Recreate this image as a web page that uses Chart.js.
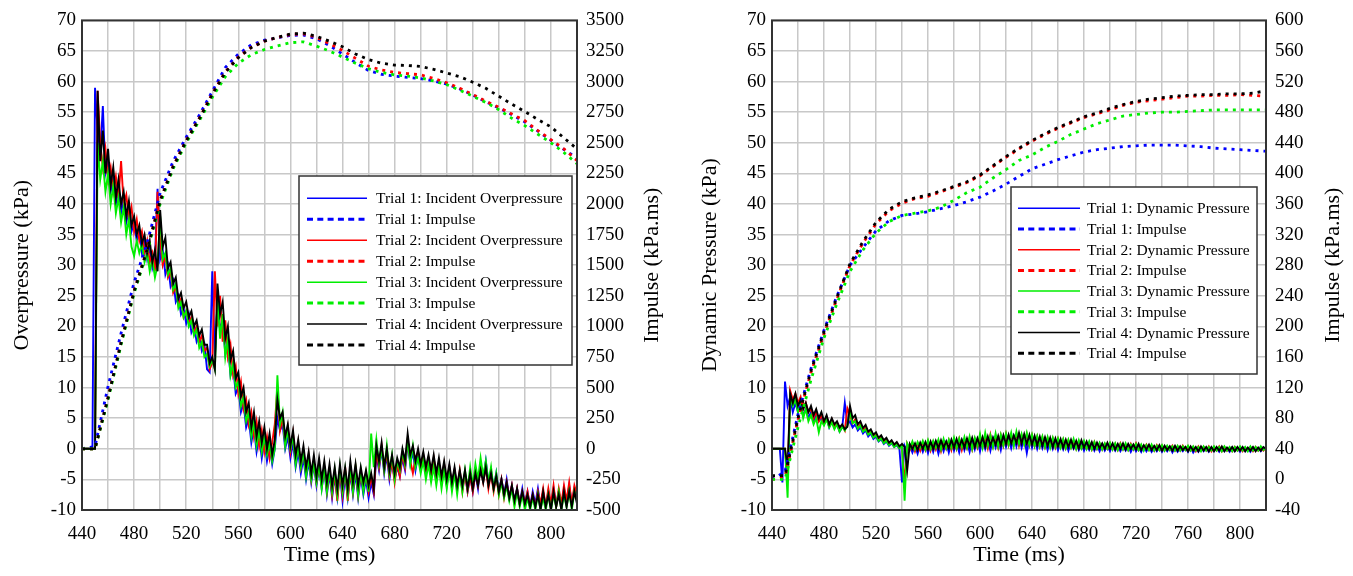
<!DOCTYPE html>
<html>
<head>
<meta charset="utf-8">
<script src="https://cdn.jsdelivr.net/npm/chart.js@4.4.1/dist/chart.umd.min.js"></script>
<style>
  html, body { margin: 0; padding: 0; background: #fff; }
  #wrap { position: relative; width: 1353px; height: 576px; }
  #c1 { position: absolute; left: 0; top: 0; }
  #c2 { position: absolute; left: 680px; top: 0; }
</style>
</head>
<body>
<div id="wrap">
  <canvas id="c1" width="680" height="576"></canvas>
  <canvas id="c2" width="673" height="576"></canvas>
</div>
<script>
// sampling of the traces (ms)
const P_START = 440, P_STEP = 2;    // pressure traces
const I_START = 440, I_STEP = 10;   // impulse traces

const X_TICK_LABELS = [440, 480, 520, 560, 600, 640, 680, 720, 760, 800];

// ---- left chart: incident overpressure (kPa), one value every 2 ms from 440 ms
const T1_OP = [
  0, 0, 0, 0, 0, 59, 52, 48, 56, 45,
  47, 42, 44, 40, 42.5, 38.5, 41, 37, 39, 35.5,
  37, 34, 35.5, 32, 34, 31, 33, 29.5, 31, 42.5,
  31, 32.5, 28.5, 30, 26.5, 27.5, 24, 25, 22, 23,
  20.5, 22, 19, 20, 17.5, 18.5, 16, 17, 13, 12.5,
  29, 15, 24, 19.5, 21, 15.5, 17, 12, 13.5, 9,
  10, 6, 7.5, 3.5, 5, 1, 3.5, -0.5, 2, -1.5,
  1.5, -2, 0.5, -2.5, 0, 5, 3, 4, 0, 2,
  -1.5, 1, -3, -0.5, -4, -1.5, -5, -2, -5.5, -2.5,
  -6, -3, -6.5, -3.5, -7.5, -4, -8, -4.5, -8, -4,
  -8.5, -4.5, -8, -4, -7.5, -4, -8, -4.5, -7.5, -5,
  -8, -5.5, -7.5, -1, -3.5, 0, -4, -1, -5, -2,
  -5, -3, -4.5, -1.5, -3.5, 1, -2.5, -0.5, -3.5, -1,
  -3.5, -1.5, -4, -2, -4.5, -2, -5, -2.5, -5.5, -3,
  -6, -3, -6, -3.5, -6.5, -4, -6.5, -4, -7, -4.5,
  -7, -4, -6.5, -2.5, -5, -2, -5.5, -3.5, -6.5, -4,
  -7, -5, -7.5, -5, -8, -6, -8.5, -6.5, -9, -6.5,
  -9, -7, -9.5, -7, -9, -6.5, -9.5, -7, -9.5, -7,
  -9.5, -6.5, -9, -7, -9.5, -6.5, -9, -6, -9, -6.5,
  -8
];
const T2_OP = [
  0, 0, 0, 0, 0, 0, 58.5, 50, 46, 49,
  44, 46, 42, 44.5, 41, 47, 40, 41.5, 37.5, 39.5,
  35.5, 37.5, 34, 35.5, 32, 34, 30.5, 32, 29, 42,
  34, 30, 31.5, 28, 29, 25.5, 26.5, 23.5, 24.5, 21.5,
  22.5, 20.5, 21.5, 19, 20, 17.5, 18.5, 16, 16.5, 13,
  14, 29, 20, 25, 17.5, 21, 15, 17, 12, 13.5,
  9, 11, 6.5, 8, 4, 6, 2, 4.5, 0.5, 3,
  -0.5, 2, -1.5, 1, 4, 10, 3, 5, 1, 3.5,
  -0.5, 2.5, -2, 1, -3, -0.5, -4, -1, -5, -2,
  -5.5, -2.5, -6, -3, -7, -3.5, -7.5, -4, -8.5, -3.5,
  -7.5, -3, -8.5, -3.5, -7, -3, -7.5, -4, -6.5, -4,
  -7, -4.5, -7, -0.5, -3, 0.5, -3.5, -0.5, -4.5, -2,
  -5.5, -2.5, -4.5, -1, -3, 1.5, -2, -4, -1.5, -0.5,
  -3, -1, -3.5, -1.5, -4, -1.5, -4.5, -2.5, -5, -2.5,
  -5.5, -3, -6, -3.5, -6.5, -3.5, -7, -4, -7, -4.5,
  -7, -4, -6, -3, -5.5, -3, -6.5, -4, -7, -4.5,
  -7.5, -5, -8, -5.5, -8, -6, -9, -6.5, -9, -7,
  -9, -7, -9.5, -7.5, -9.5, -7, -9, -6.5, -9.5, -6.5,
  -9, -6, -9.5, -6.5, -9, -6, -8.5, -5.5, -9, -6,
  -7.5
];
const T3_OP = [
  0, 0, 0, 0, 0, 0, 50, 44, 47, 42,
  45, 40, 43, 38.5, 41, 37, 39.5, 35, 37.5, 33,
  31.5, 34, 32, 33.5, 30.5, 32, 29, 31, 28, 30,
  38, 31, 32, 28.5, 29.5, 26, 27, 23, 24, 21.5,
  22.5, 20, 21, 18.5, 19.5, 16.5, 17.5, 15, 15.5, 13.5,
  14.5, 13, 25, 18, 22, 15, 18, 12, 14, 10,
  11, 7, 8.5, 4.5, 6, 2, 4.5, 0.5, 3, -0.5,
  2, -1, 1, -2, 0, 12, 4, 6, 0.5, 3,
  0, 2, -2.5, 0.5, -3, -0.5, -4.5, -1.5, -5, -2.5,
  -5.5, -2.5, -6.5, -3, -7, -3.5, -7, -3.5, -7.5, -3,
  -7, -3.5, -7.5, -3, -7, -3, -7.5, -3.5, -7, -4,
  -7, 2.5, -3, 1.5, -2.5, 0, -3.5, 0.5, -4, -1,
  -5, -2, -3.5, -0.5, -2.5, 1.5, -2.5, 0.5, -3, -1.5,
  -4, -2, -5, -2.5, -5.5, -3, -6, -3, -6.5, -3.5,
  -6.5, -3.5, -7, -4, -7.5, -4, -7, -3.5, -6.5, -3,
  -6, -2.5, -5, -1.5, -4.5, -2, -5.5, -3, -6.5, -4,
  -7.5, -5.5, -8, -6, -8.5, -6.5, -9.5, -7, -9.5, -7.5,
  -10, -8, -10, -8, -10, -7.5, -10, -8, -10, -7.5,
  -10, -7.5, -9.5, -7, -10, -7.5, -9.5, -7, -10, -7,
  -8.5
];
const T4_OP = [
  0, 0, 0, 0, 0, 0, 58.5, 47, 52, 45,
  49, 43, 46, 41, 44, 40, 42, 38, 40.5, 36.5,
  38, 35, 36.5, 33.5, 35, 32, 34, 30.5, 32.5, 29,
  39, 33, 34.5, 29.5, 30.5, 27, 28, 24.5, 25.5, 23,
  24, 21.5, 22.5, 20, 21, 18.5, 19.5, 17, 17, 14,
  15, 13, 27, 22, 24, 18, 20, 14.5, 16, 11.5,
  12.5, 8.5, 10, 6, 7.5, 3.5, 6, 2, 4.5, 1,
  3.5, 0, 2.5, -1, 1.5, 8, 5, 6, 2, 4,
  0.5, 3, -1, 1.5, -2, 0.5, -3, -0.5, -4, -1,
  -4.5, -1.5, -5, -2, -5.5, -2.5, -6, -3, -6.5, -2.5,
  -6, -3, -6.5, -2, -5.5, -2.5, -6, -3, -5.5, -3.5,
  -6, -4, -6.5, 0.5, -2, 1, -3, 0, -3.5, -1,
  -4, -1.5, -3, 0, -2, 2.5, -1, 0.5, -2, 0,
  -2.5, -0.5, -3, -1, -3.5, -1, -4, -1.5, -4.5, -2,
  -5, -2.5, -5.5, -3, -6, -3.5, -6, -3.5, -6.5, -4,
  -6.5, -4, -6, -3.5, -5.5, -3, -6, -4, -6.5, -4.5,
  -7, -5, -7.5, -5.5, -8, -6, -8.5, -6.5, -9, -7,
  -9, -7.5, -9.5, -7.5, -9.5, -7.5, -10, -7, -9.5, -7.5,
  -10, -7, -9.5, -7.5, -10, -7, -9.5, -7, -9.5, -7,
  -9
];
// impulse of the overpressure (kPa.ms), one value every 10 ms from 440 ms
const T1_OP_IMP = [0, 20, 510, 945, 1360, 1680, 2090, 2350, 2545, 2725, 2920, 3115, 3225, 3300, 3338, 3357, 3378, 3380, 3350, 3295, 3225, 3155, 3090, 3060, 3045, 3035, 3025, 3005, 2980, 2940, 2890, 2835, 2785, 2730, 2670, 2595, 2520, 2445, 2375];
const T2_OP_IMP = [0, 0, 420, 870, 1290, 1630, 2030, 2310, 2520, 2700, 2900, 3080, 3200, 3280, 3330, 3360, 3385, 3390, 3362, 3310, 3255, 3190, 3125, 3095, 3075, 3065, 3055, 3025, 2990, 2945, 2895, 2840, 2790, 2735, 2680, 2600, 2525, 2450, 2355];
const T3_OP_IMP = [0, 0, 400, 850, 1270, 1610, 2000, 2290, 2500, 2680, 2870, 3040, 3150, 3220, 3262, 3292, 3318, 3325, 3290, 3250, 3200, 3150, 3105, 3075, 3055, 3045, 3030, 3005, 2975, 2930, 2880, 2830, 2770, 2700, 2640, 2570, 2500, 2420, 2330];
const T4_OP_IMP = [0, 0, 415, 865, 1285, 1625, 2025, 2305, 2515, 2695, 2895, 3075, 3195, 3278, 3330, 3362, 3388, 3396, 3370, 3330, 3285, 3225, 3180, 3150, 3135, 3132, 3124, 3100, 3070, 3040, 2995, 2945, 2880, 2815, 2755, 2690, 2630, 2540, 2450];

// ---- right chart: dynamic pressure (kPa), one value every 2 ms from 440 ms
const T1_DP = [
  0, 0, 0, 0, -5.5, 11, 7, 8.5, 6, 7.5,
  6, 7, 5.5, 6.5, 5, 6, 4.5, 5.5, 4.5, 5,
  4, 5, 3.5, 4.5, 3.5, 4, 2.8, 3.5, 7.5, 4,
  4.5, 3.5, 4, 3, 3.5, 2.5, 3, 2, 2.5, 1.6,
  2, 1.2, 1.6, 0.8, 1.2, 0.5, 0.9, 0.3, 0.6, 0,
  -5.5, 0.5, -0.5, 0.6, -0.6, 0.5, -0.8, 0.7, -0.5, 0.8,
  -0.7, 0.9, -0.5, 1.0, -0.8, 0.9, -0.4, 1.1, -0.6, 1.2,
  -0.3, 1.1, -0.6, 1.3, -0.2, 1.2, -0.5, 1.4, -0.1, 1.5,
  -0.4, 1.6, 0, 1.5, -0.3, 1.7, 0.2, 1.6, -0.2, 1.9,
  0.3, 1.8, 0.1, 2.0, 0.4, 2.1, 0.2, 1.9, -0.7, 1.8,
  0.2, 1.7, 0, 1.6, 0.1, 1.5, -0.2, 1.4, 0, 1.3,
  -0.2, 1.2, -0.1, 1.1, -0.3, 1.0, 0, 0.9, -0.2, 0.8,
  -0.3, 0.8, -0.2, 0.7, -0.3, 0.6, -0.4, 0.7, -0.3, 0.5,
  -0.4, 0.6, -0.3, 0.5, -0.4, 0.4, -0.3, 0.5, -0.5, 0.4,
  -0.4, 0.3, -0.5, 0.4, -0.4, 0.3, -0.5, 0.2, -0.4, 0.3,
  -0.5, 0.2, -0.4, 0.3, -0.6, 0.2, -0.5, 0.1, -0.4, 0.2,
  -0.5, 0.2, -0.6, 0.1, -0.5, 0.2, -0.4, 0.1, -0.5, 0.2,
  -0.4, 0.1, -0.5, 0.2, -0.4, 0.1, -0.5, 0.2, -0.4, 0.1,
  -0.5, 0.2, -0.4, 0.1, -0.5, 0.2, -0.3, 0.1, -0.4, 0.2,
  -0.1
];
const T2_DP = [
  0, 0, 0, 0, 0, 0, -5, 9.5, 8, 9,
  7.5, 8.5, 6.5, 7.5, 6, 6.5, 5, 6, 4.5, 5.5,
  4.2, 5.2, 3.8, 4.8, 3.5, 4.2, 3, 3.8, 3, 6.6,
  5.5, 4.2, 4.8, 3.5, 4, 3, 3.5, 2.5, 2.9, 2,
  2.4, 1.5, 1.9, 1.1, 1.5, 0.8, 1.2, 0.5, 0.8, 0.2,
  0.5, -6, 0.8, -0.2, 1, -0.4, 0.9, -0.3, 1.1, -0.2,
  1.2, -0.3, 1.1, -0.1, 1.3, -0.4, 1.2, 0, 1.4, -0.2,
  1.5, 0, 1.6, -0.2, 1.4, 0.1, 1.7, -0.1, 1.6, 0.2,
  2.1, 0.3, 1.9, 0.1, 2.3, 0.4, 2.0, 0.2, 2.2, 0.5,
  2.4, 0.6, 2.3, 0.7, 2.5, 0.5, 2.2, 0.8, 2.4, 0.6,
  2.2, 0.5, 2.0, 0.4, 1.9, 0.3, 1.8, 0.4, 1.7, 0.2,
  1.6, 0.3, 1.5, 0.1, 1.4, 0.2, 1.3, 0, 1.2, 0.1,
  1.1, 0, 1.0, -0.1, 1.1, 0, 0.9, -0.1, 0.8, 0,
  0.9, -0.1, 0.8, -0.2, 0.9, -0.1, 0.7, -0.2, 0.8, -0.1,
  0.9, -0.2, 0.6, -0.1, 0.7, -0.2, 0.5, -0.3, 0.6, -0.2,
  0.5, -0.3, 0.4, -0.2, 0.5, -0.3, 0.4, -0.3, 0.5, -0.2,
  0.4, -0.3, 0.3, -0.4, 0.4, -0.3, 0.3, -0.3, 0.4, -0.4,
  0.3, -0.3, 0.4, -0.4, 0.3, -0.3, 0.2, -0.4, 0.3, -0.3,
  0.3, -0.4, 0.2, -0.3, 0.3, -0.4, 0.3, -0.3, 0.2, -0.3,
  0.2
];
const T3_DP = [
  0, 0, 0, 0, 0, 0, -8, 8.5, 7, 8,
  6, 7.5, 5, 6.5, 4.5, 5.5, 4, 5, 2.7, 4.5,
  3.8, 4.8, 3.5, 4.3, 3.2, 4, 2.8, 3.6, 3, 3.8,
  6, 4.2, 4.5, 3.3, 3.8, 2.8, 3.2, 2.3, 2.7, 1.8,
  2.2, 1.3, 1.7, 0.9, 1.3, 0.6, 1, 0.3, 0.7, 0.1,
  0.5, -8.5, 0.9, 0, 1.2, -0.1, 1.1, 0.2, 1.3, -0.1,
  1.4, 0, 1.3, 0.2, 1.5, -0.1, 1.6, 0.1, 1.5, 0.2,
  1.8, 0.1, 1.7, 0.3, 1.9, 0.2, 2.0, 0, 1.8, 0.4,
  2.4, 0.2, 2.6, 0.5, 2.2, 0.3, 2.5, 0.4, 2.3, 0.6,
  2.5, 0.7, 2.6, 0.5, 2.8, 0.8, 2.4, 0.7, 2.6, 0.6,
  2.3, 0.5, 2.1, 0.4, 2.0, 0.3, 1.9, 0.2, 1.8, 0.3,
  1.7, 0.2, 1.6, 0.1, 1.5, 0.2, 1.6, 0, 1.4, 0.1,
  1.3, 0, 1.2, -0.1, 1.1, 0, 1.0, -0.1, 0.9, 0,
  1.0, -0.1, 0.9, -0.2, 0.8, -0.1, 0.9, -0.2, 0.7, -0.1,
  0.8, -0.2, 0.7, -0.3, 0.6, -0.2, 0.7, -0.3, 0.5, -0.2,
  0.6, -0.3, 0.5, -0.2, 0.4, -0.3, 0.5, -0.3, 0.4, -0.2,
  0.5, -0.3, 0.4, -0.3, 0.3, -0.4, 0.4, -0.3, 0.3, -0.3,
  0.4, -0.3, 0.3, -0.4, 0.4, -0.3, 0.3, -0.4, 0.3, -0.3,
  0.4, -0.3, 0.3, -0.4, 0.4, -0.3, 0.3, -0.3, 0.4, -0.2,
  0.3
];
const T4_DP = [
  0, 0, 0, 0, 0, 0, -3, 9, 7.5, 9,
  7, 8, 6.5, 7.5, 6, 7, 5.5, 6.5, 5, 6,
  4.5, 5.5, 4, 5, 4, 4.5, 3.5, 4, 3.2, 3.6,
  7, 5, 5.5, 4, 4.5, 3.4, 3.9, 2.8, 3.2, 2.3,
  2.7, 1.8, 2.2, 1.4, 1.8, 1, 1.4, 0.7, 1.1, 0.4,
  0.8, 0.3, -3.5, 0.8, 0, 0.9, -0.2, 1, 0, 1.1,
  -0.1, 1.2, 0, 1.3, 0.1, 1.4, 0.2, 1.2, 0.1, 1.5,
  0.2, 1.6, 0.3, 1.5, 0.2, 1.7, 0.4, 1.8, 0.3, 1.7,
  0.5, 1.9, 0.4, 2.0, 0.6, 1.8, 0.7, 2.1, 0.6, 2.2,
  0.8, 2.3, 0.9, 2.2, 1.0, 2.6, 0.9, 2.4, 0.8, 2.3,
  0.7, 2.1, 0.6, 2.0, 0.5, 1.9, 0.5, 1.8, 0.3, 1.7,
  0.4, 1.6, 0.2, 1.5, 0.3, 1.5, 0.2, 1.3, 0.1, 1.4,
  0.2, 1.2, 0.1, 1.1, 0, 1.0, 0.1, 0.9, 0, 1.0,
  0, 0.9, -0.1, 0.8, 0, 0.9, -0.1, 0.8, 0, 0.7,
  -0.1, 0.8, -0.2, 0.6, -0.1, 0.7, -0.2, 0.5, -0.2, 0.6,
  -0.3, 0.5, -0.2, 0.4, -0.3, 0.5, -0.3, 0.4, -0.2, 0.3,
  -0.4, 0.4, -0.3, 0.3, -0.4, 0.4, -0.3, 0.3, -0.4, 0.3,
  -0.4, 0.3, -0.3, 0.4, -0.4, 0.2, -0.3, 0.3, -0.4, 0.3,
  -0.3, 0.3, -0.4, 0.2, -0.3, 0.3, -0.4, 0.2, -0.3, 0.3,
  0
];
// impulse of the dynamic pressure (kPa.ms), one value every 10 ms from 440 ms
const T1_DP_IMP = [0, 10, 85, 145, 195, 240, 280, 303, 325, 338, 345, 347, 350, 354, 358, 363, 369, 377, 386, 396, 406, 412, 418, 423, 428, 431, 433, 435, 436, 437, 437, 437, 436, 435, 433, 432, 431, 430, 429];
const T2_DP_IMP = [0, 3, 78, 140, 190, 236, 280, 309, 334, 351, 361, 367, 370, 376, 382, 388, 397, 409, 421, 432, 442, 451, 459, 466, 473, 478, 483, 489, 493, 495, 497, 499, 501, 501, 502, 502, 503, 502, 501];
const T3_DP_IMP = [0, 0, 68, 130, 185, 230, 272, 300, 322, 337, 345, 348, 351, 356, 365, 375, 382, 394, 405, 417, 424, 434, 442, 451, 458, 465, 470, 475, 477, 479, 480, 480, 481, 482, 483, 483, 483, 483, 483];
const T4_DP_IMP = [5, 5, 80, 142, 193, 238, 282, 311, 336, 353, 363, 368, 372, 377, 383, 389, 398, 410, 422, 433, 443, 452, 460, 467, 474, 479, 485, 490, 494, 497, 499, 501, 502, 503, 503, 504, 504, 505, 508];

const COLORS = ['#0000ff', '#ff0000', '#00ee00', '#000000'];
const FONT = "'Liberation Serif', 'Times New Roman', serif";

Chart.defaults.font.family = FONT;
Chart.defaults.color = '#000';

function toPoints(vals, start, step) {
  return vals.map((v, i) => ({ x: start + i * step, y: v }));
}

function buildDatasets(pressures, impulses, pressureName) {
  const sets = [];
  for (let k = 0; k < 4; k++) {
    sets.push({
      label: 'Trial ' + (k + 1) + ': ' + pressureName,
      data: toPoints(pressures[k], P_START, P_STEP),
      yAxisID: 'y',
      borderColor: COLORS[k],
      borderWidth: 1.9,
      pointRadius: 0,
      order: 8 - k
    });
    sets.push({
      label: 'Trial ' + (k + 1) + ': Impulse',
      data: toPoints(impulses[k], I_START, I_STEP),
      yAxisID: 'y1',
      borderColor: COLORS[k],
      borderWidth: 2.8,
      borderDash: [3, 5],
      pointRadius: 0,
      order: 4 - k
    });
  }
  return sets;
}

// frame, axis titles and the boxed legend inside the plot
const decor = {
  id: 'decor',
  afterDraw(chart, args, o) {
    const { ctx, chartArea: a } = chart;
    ctx.save();
    ctx.strokeStyle = '#333';
    ctx.lineWidth = 2;
    ctx.strokeRect(a.left, a.top, a.right - a.left, a.bottom - a.top);

    ctx.fillStyle = '#000';
    ctx.font = '22px ' + FONT;
    ctx.textAlign = 'center';
    ctx.textBaseline = 'middle';
    ctx.fillText(o.xTitle, (a.left + a.right) / 2, o.xTitleY);
    const midY = (a.top + a.bottom) / 2;
    [[o.yTitle, o.yTitleX], [o.y1Title, o.y1TitleX]].forEach(([text, x]) => {
      ctx.save();
      ctx.translate(x, midY);
      ctx.rotate(-Math.PI / 2);
      ctx.fillText(text, 0, 0);
      ctx.restore();
    });

    const L = o.legend;
    ctx.fillStyle = '#fff';
    ctx.fillRect(L.x, L.y, L.w, L.h);
    ctx.strokeStyle = '#333';
    ctx.lineWidth = 1.5;
    ctx.strokeRect(L.x, L.y, L.w, L.h);
    ctx.font = '15.5px ' + FONT;
    ctx.textAlign = 'left';
    chart.data.datasets.forEach((ds, i) => {
      const yy = L.y + L.first + i * L.row;
      ctx.strokeStyle = ds.borderColor;
      if (ds.borderDash) { ctx.setLineDash([6, 4.3]); ctx.lineWidth = 3; }
      else { ctx.setLineDash([]); ctx.lineWidth = 1.5; }
      ctx.beginPath();
      ctx.moveTo(L.x + L.s0, yy);
      ctx.lineTo(L.x + L.s1, yy);
      ctx.stroke();
      ctx.setLineDash([]);
      ctx.fillStyle = '#000';
      ctx.fillText(ds.label, L.x + L.tx, yy + 1);
    });
    ctx.restore();
  }
};

function makeChart(id, datasets, y1, box, decorOpts) {
  const grid = { color: '#c8c8c8', lineWidth: 1.5, drawTicks: false };
  return new Chart(document.getElementById(id), {
    type: 'line',
    data: { datasets },
    options: {
      responsive: false,
      animation: false,
      events: [],
      layout: { padding: { top: box.top, left: 0, right: 0, bottom: 0 } },
      plugins: { legend: { display: false }, tooltip: { enabled: false }, decor: decorOpts },
      scales: {
        x: {
          type: 'linear', min: 440, max: 820,
          grid, border: { display: false },
          ticks: {
            stepSize: 20, autoSkip: false, maxRotation: 0, padding: 13,
            font: { size: 19 },
            callback: v => (X_TICK_LABELS.includes(v) ? String(v) : '')
          },
          afterFit: s => { s.height = box.bottom; }
        },
        y: {
          position: 'left', min: -10, max: 70,
          grid, border: { display: false },
          ticks: { stepSize: 5, autoSkip: false, padding: 6, font: { size: 19 }, callback: v => String(v) },
          afterFit: s => { s.width = box.left; }
        },
        y1: {
          position: 'right', min: y1.min, max: y1.max,
          grid: { display: false, drawTicks: false }, border: { display: false },
          ticks: { stepSize: y1.step, autoSkip: false, padding: 9, font: { size: 19 }, callback: v => String(v) },
          afterFit: s => { s.width = box.right; }
        }
      }
    },
    plugins: [decor]
  });
}

makeChart('c1',
  buildDatasets([T1_OP, T2_OP, T3_OP, T4_OP], [T1_OP_IMP, T2_OP_IMP, T3_OP_IMP, T4_OP_IMP], 'Incident Overpressure'),
  { min: -500, max: 3500, step: 250 },
  { top: 15, bottom: 66, left: 82, right: 103 },
  {
    xTitle: 'Time (ms)', xTitleY: 555,
    yTitle: 'Overpressure (kPa)', yTitleX: 22,
    y1Title: 'Impulse (kPa.ms)', y1TitleX: 652,
    legend: { x: 299, y: 176, w: 273, h: 189, first: 22.3, row: 20.96, s0: 8, s1: 68, tx: 77 }
  });

makeChart('c2',
  buildDatasets([T1_DP, T2_DP, T3_DP, T4_DP], [T1_DP_IMP, T2_DP_IMP, T3_DP_IMP, T4_DP_IMP], 'Dynamic Pressure'),
  { min: -40, max: 600, step: 40 },
  { top: 17, bottom: 66, left: 92, right: 87 },
  {
    xTitle: 'Time (ms)', xTitleY: 555,
    yTitle: 'Dynamic Pressure (kPa)', yTitleX: 30,
    y1Title: 'Impulse (kPa.ms)', y1TitleX: 653,
    legend: { x: 331, y: 187, w: 246, h: 187, first: 21.3, row: 20.7, s0: 7, s1: 69, tx: 76 }
  });
</script>
</body>
</html>
